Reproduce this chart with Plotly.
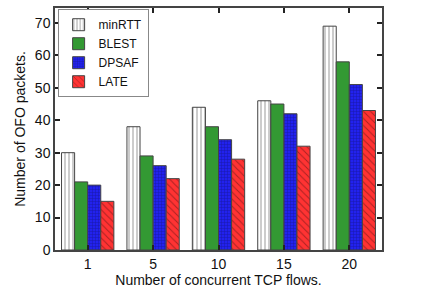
import plotly.graph_objects as go

categories = ["1", "5", "10", "15", "20"]
minrtt = [30, 38, 44, 46, 69]
blest = [21, 29, 38, 45, 58]
dpsaf = [20, 26, 34, 42, 51]
late = [15, 22, 28, 32, 43]
y_ticks = [0, 10, 20, 30, 40, 50, 60, 70]

fig = go.Figure()
line = dict(color="#444444", width=1)
fig.add_trace(go.Bar(name="minRTT", x=categories, y=minrtt,
                     marker=dict(color="white", line=line,
                                 pattern=dict(shape="|", fgcolor="#333333", bgcolor="white",
                                              size=4, solidity=0.25))))
fig.add_trace(go.Bar(name="BLEST", x=categories, y=blest,
                     marker=dict(color="#339933", line=line)))
fig.add_trace(go.Bar(name="DPSAF", x=categories, y=dpsaf,
                     marker=dict(color="#2222ee", line=line,
                                 pattern=dict(shape="+", fgcolor="#111166", bgcolor="#2222ee",
                                              size=3, solidity=0.3))))
fig.add_trace(go.Bar(name="LATE", x=categories, y=late,
                     marker=dict(color="#ff3333", line=line,
                                 pattern=dict(shape="\\", fgcolor="#551111", bgcolor="#ff3333",
                                              size=5, solidity=0.2))))

axis_common = dict(showline=True, linecolor="#444444", linewidth=1.5, mirror="ticks",
                   ticks="inside", ticklen=5, tickcolor="#222222", tickwidth=1.5,
                   showgrid=False, zeroline=False,
                   tickfont=dict(family="Liberation Sans, Arial", size=14, color="#111111"))

fig.update_layout(
    width=424, height=293,
    margin=dict(l=55, r=42, t=6, b=43),
    paper_bgcolor="white", plot_bgcolor="white",
    barmode="group", bargap=0.2, bargroupgap=0,
    font=dict(family="Liberation Sans, Arial", size=14, color="#111111"),
    xaxis=dict(**axis_common, range=[-0.5, 4.5],
               title=dict(text="Number of concurrent TCP flows.", standoff=0,
                          font=dict(size=14))),
    yaxis=dict(**axis_common, range=[0, 74.6], tickvals=y_ticks,
               title=dict(text="Number of OFO packets.", standoff=6, font=dict(size=14))),
    legend=dict(x=0.008, y=0.995, xanchor="left", yanchor="top",
                bordercolor="#888888", borderwidth=1, bgcolor="white",
                font=dict(size=12), tracegroupgap=0, itemwidth=30),
    showlegend=True,
)

fig.write_html("out.html", config={"displayModeBar": False},
               post_script="document.body.style.margin='0';document.body.style.padding='0';")
